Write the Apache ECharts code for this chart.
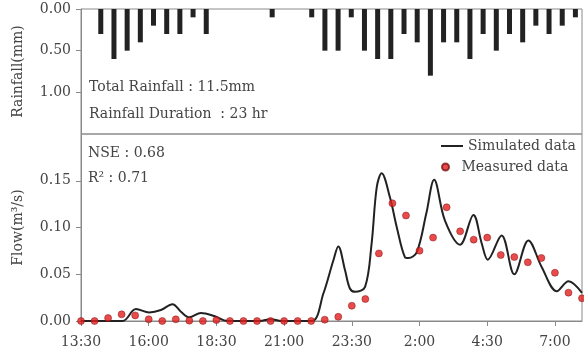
<!DOCTYPE html>
<html><head><meta charset="utf-8">
<script src="https://cdn.jsdelivr.net/npm/echarts@6/dist/echarts.min.js"></script>
<style>html,body{margin:0;padding:0;background:#fff}#c{width:584px;height:356px}</style>
</head><body><div id="c"></div>
<script>
// Rainfall (mm) per 30-min slot
const rainSlots = ['13:30','14:00','14:30','15:00','15:30','16:00','16:30','17:00','17:30','18:00','18:30','19:00','19:30','20:00','20:30','21:00','21:30','22:00','22:30','23:00','23:30','0:00','0:30','1:00','1:30','2:00','2:30','3:00','3:30','4:00','4:30','5:00','5:30','6:00','6:30','7:00','7:30','8:00'];
const rainfall = [0,0.3,0.6,0.5,0.4,0.2,0.3,0.3,0.1,0.3,0,0,0,0,0.1,0,0,0.1,0.5,0.5,0.1,0.5,0.6,0.6,0.3,0.4,0.8,0.4,0.4,0.6,0.3,0.5,0.3,0.4,0.2,0.3,0.2,0.1];

// Simulated flow (hours after 13:30, m3/s)
const simTime = [0,1.0,1.54,2.03,2.52,2.95,3.38,3.69,4.0,4.43,4.92,5.42,6.6,7.0,7.4,8.52,8.95,9.32,9.5,9.75,9.93,10.12,10.49,10.73,10.92,11.1,11.41,11.66,11.96,12.09,12.4,12.75,13.04,13.44,14.0,14.49,14.8,15.02,15.53,16.0,16.52,17.01,17.57,18.0,18.5];
const simFlow = [0,0,0,0.0128,0.0092,0.0117,0.018,0.0099,0.004,0.0085,0.0053,0,0,0.002,0,0,0.0294,0.065,0.0798,0.0543,0.0348,0.0312,0.0365,0.0826,0.143,0.158,0.132,0.1003,0.0684,0.0674,0.0737,0.115,0.151,0.1074,0.0816,0.1135,0.0826,0.0656,0.0915,0.05,0.0862,0.0578,0.0319,0.0426,0.0301];

// Measured flow (every 30 min)
const measTime = [0,0.5,1,1.5,2,2.5,3,3.5,4,4.5,5,5.5,6,6.5,7,7.5,8,8.5,9,9.5,10,10.5,11,11.5,12,12.5,13,13.5,14,14.5,15,15.5,16,16.5,17,17.5,18,18.5];
const measFlow = [0,0,0.0032,0.0071,0.006,0.0018,0,0.0018,0.0004,0,0.001,0,0,0,0,0,0,0,0.0014,0.0045,0.0163,0.0235,0.0723,0.1259,0.1128,0.0752,0.0892,0.1216,0.0959,0.087,0.0892,0.0706,0.0684,0.0628,0.0674,0.0516,0.0303,0.0243];

const rainTicks = [0, 0.5, 1.0, 1.5];
const flowTicks = [0, 0.05, 0.10, 0.15, 0.20];
const startMinutes = 13*60 + 30;

const FONT = '"DejaVu Serif", serif';
const TXT = '#444';
const AX = '#8a8a8a';

function timeLabel(h) {
  let m = Math.round(startMinutes + h*60) % 1440;
  return Math.floor(m/60) + ':' + String(m%60).padStart(2,'0');
}

const chart = echarts.init(document.getElementById('c'), null, {renderer:'canvas'});
chart.setOption({
  animation: false,
  backgroundColor: '#fff',
  grid: [
    {left:81, right:2, top:9, height:125, show:true, borderColor:AX, borderWidth:1},
    {left:81, right:2, top:134, height:187, show:true, borderColor:AX, borderWidth:1}
  ],
  xAxis: [
    {type:'category', gridIndex:0, data:rainSlots, boundaryGap:true,
     axisLine:{show:false}, axisTick:{show:false}, axisLabel:{show:false}, splitLine:{show:false}},
    {type:'value', gridIndex:1, min:0, max:18.5, interval:2.5,
     axisLine:{show:true, lineStyle:{color:AX}},
     axisTick:{show:true, length:5, lineStyle:{color:AX}},
     axisLabel:{formatter:timeLabel, showMaxLabel:false, margin:14, fontSize:14, color:TXT, fontFamily:FONT},
     splitLine:{show:false}}
  ],
  yAxis: [
    {type:'value', gridIndex:0, inverse:true, min:rainTicks[0], max:rainTicks[rainTicks.length-1], interval:0.5,
     axisLine:{show:true, lineStyle:{color:AX}},
     axisTick:{show:true, length:5, lineStyle:{color:AX}},
     axisLabel:{formatter:v=>v.toFixed(2), showMaxLabel:false, margin:10, fontSize:14, color:TXT, fontFamily:FONT},
     splitLine:{show:false},
     name:'Rainfall(mm)', nameLocation:'middle', nameGap:56,
     nameTextStyle:{fontSize:14, color:TXT, fontFamily:FONT}},
    {type:'value', gridIndex:1, min:flowTicks[0], max:flowTicks[flowTicks.length-1], interval:0.05,
     axisLine:{show:true, lineStyle:{color:AX}},
     axisTick:{show:true, length:5, lineStyle:{color:AX}},
     axisLabel:{formatter:v=>v.toFixed(2), showMaxLabel:false, margin:10, fontSize:14, color:TXT, fontFamily:FONT},
     splitLine:{show:false},
     name:'Flow(m³/s)', nameLocation:'middle', nameGap:56,
     nameTextStyle:{fontSize:14, color:TXT, fontFamily:FONT}}
  ],
  legend: [
    {data:[{name:'Simulated data', icon:'rect'}], left:441, top:139, padding:0,
     itemWidth:22, itemHeight:2,
     textStyle:{fontSize:14, color:TXT, fontFamily:FONT}},
    {data:[{name:'Measured data', icon:'circle'}], left:441, top:160, padding:0,
     itemWidth:22, itemHeight:7,
     textStyle:{fontSize:14, color:TXT, fontFamily:FONT}}
  ],
  graphic: [
    {type:'text', left:89, top:80, style:{text:'Total Rainfall : 11.5mm', font:'14px '+FONT, fill:TXT}},
    {type:'text', left:89, top:107, style:{text:'Rainfall Duration  : 23 hr', font:'14px '+FONT, fill:TXT}},
    {type:'text', left:88, top:146, style:{text:'NSE : 0.68', font:'14px '+FONT, fill:TXT}},
    {type:'text', left:88, top:171, style:{text:'R² : 0.71', font:'14px '+FONT, fill:TXT}}
  ],
  series: [
    {type:'bar', xAxisIndex:0, yAxisIndex:0, data:rainfall, barWidth:5, itemStyle:{color:'#222'}},
    {name:'Simulated data', type:'line', xAxisIndex:1, yAxisIndex:1, smooth:0.35, symbol:'none',
     data: simTime.map((t,i)=>[t, simFlow[i]]), lineStyle:{color:'#222', width:2}, itemStyle:{color:'#222'}, z:2},
    {name:'Measured data', type:'scatter', xAxisIndex:1, yAxisIndex:1, symbolSize:7,
     data: measTime.map((t,i)=>[t, measFlow[i]]),
     itemStyle:{color:'#e41e1e', borderColor:'#7a1414', borderWidth:0.6}, z:3}
  ]
});
</script></body></html>
